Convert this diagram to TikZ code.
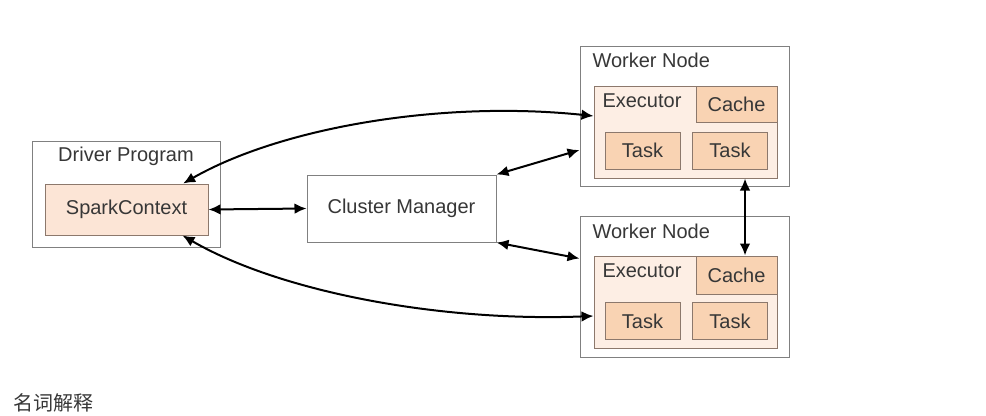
\documentclass[tikz,border=0pt]{standalone}
\usepackage{fontspec}
\setsansfont{Liberation Sans}
\newfontfamily\cjk{Noto Sans CJK SC}
\usetikzlibrary{arrows.meta}

\definecolor{boxgray}{RGB}{128,128,128}
\definecolor{txtgray}{RGB}{55,55,55}
\definecolor{sparkfill}{RGB}{252,229,214}
\definecolor{execfill}{RGB}{253,238,228}
\definecolor{taskfill}{RGB}{249,211,179}
\definecolor{peachline}{RGB}{140,120,108}

\tikzset{every picture/.style={line width=0.75pt}}
\tikzset{
  box/.style={draw=boxgray, fill=white, inner sep=0pt},
  spark/.style={draw=peachline, fill=sparkfill, inner sep=0pt},
  exec/.style={draw=peachline, fill=execfill, inner sep=0pt},
  task/.style={draw=peachline, fill=taskfill, inner sep=0pt},
  label/.style={inner sep=0.75pt, text=txtgray, font=\sffamily\fontsize{15}{18}\selectfont},
  link/.style={draw=black, line width=1.5pt, {Latex[length=9pt,width=8pt]}-{Latex[length=9pt,width=8pt]}}
}

\begin{document}
\begin{tikzpicture}[x=0.75pt,y=0.75pt,yscale=-1,xscale=1]
				\useasboundingbox (0,0) rectangle (986,415);
				\clip (0,0) rectangle (986,415);
				
				%Shape: Rectangle [driver]
				\draw (126,194) node [box, minimum width=141pt, minimum height=79.5pt] (driver) {};
				%Shape: Rectangle [spark]
				\draw (126.5,209.5) node [spark, minimum width=122.25pt, minimum height=38.25pt] (spark) {};
				%Shape: Rectangle [cluster]
				\draw (401.5,208.5) node [box, minimum width=141.75pt, minimum height=50.25pt] (cluster) {};
				
				%Shape: Rectangle [worker 1]
				\draw (684.5,116) node [box, minimum width=156.75pt, minimum height=105pt] (worker1) {};
				\draw (685.5,132) node [exec, minimum width=137.25pt, minimum height=69pt] (exec1) {};
				\draw (736.5,104) node [task, minimum width=60.75pt, minimum height=27pt] (cache1) {};
				\draw (642.5,150.5) node [task, minimum width=56.25pt, minimum height=27.75pt] (task1a) {};
				\draw (730,150.5) node [task, minimum width=56.25pt, minimum height=27.75pt] (task1b) {};
				
				%Shape: Rectangle [worker 2]
				\draw (684.5,286.5) node [box, minimum width=156.75pt, minimum height=105.75pt] (worker2) {};
				\draw (685.5,302) node [exec, minimum width=137.25pt, minimum height=69pt] (exec2) {};
				\draw (736.5,275) node [task, minimum width=60.75pt, minimum height=28.5pt] (cache2) {};
				\draw (642.5,321) node [task, minimum width=56.25pt, minimum height=27.75pt] (task2a) {};
				\draw (730,321) node [task, minimum width=56.25pt, minimum height=27.75pt] (task2b) {};
				
				%Straight Lines
				\draw [link] (spark.east) -- (cluster.west) ;
				\draw [link] (cluster.north east) -- ([yshift=25.5pt]worker1.west) ;
				\draw [link] (cluster.south east) -- ([yshift=-21pt]worker2.west) ;
				\draw [link] ([xshift=6.4pt]cache2.north) -- ([xshift=6.4pt]cache2.north |- exec1.south) ;
				%Curve Lines
				\draw [link] ([xshift=-19pt]spark.north east) .. controls (280,128) and (440,100) .. ([yshift=-12pt]exec1.west) ;
				\draw [link] ([xshift=-19.5pt]spark.south east) .. controls (280,292) and (440,322) .. ([yshift=10.5pt]exec2.west) ;
				
				% Text Node
				\draw (126,156) node [label] {Driver Program};
				% Text Node
				\draw (spark.center) node [label] {SparkContext};
				% Text Node
				\draw (cluster.center) node [label] {Cluster Manager};
				% Text Node
				\draw (591,60) node [label, anchor=west] {Worker Node};
				% Text Node
				\draw (601,101) node [label, anchor=west] {Executor};
				% Text Node
				\draw (cache1.center) node [label] {Cache};
				% Text Node
				\draw (task1a.center) node [label] {Task};
				% Text Node
				\draw (task1b.center) node [label] {Task};
				% Text Node
				\draw (591,231) node [label, anchor=west] {Worker Node};
				% Text Node
				\draw (601,271) node [label, anchor=west] {Executor};
				% Text Node
				\draw (cache2.center) node [label] {Cache};
				% Text Node
				\draw (task2a.center) node [label] {Task};
				% Text Node
				\draw (task2b.center) node [label] {Task};
				% Text Node
				\draw (13,393) node [anchor=north west, inner sep=0pt, text=txtgray, font=\cjk\fontsize{15}{18}\selectfont] (terms) {名词解释};
				
			\end{tikzpicture}
\end{document}
